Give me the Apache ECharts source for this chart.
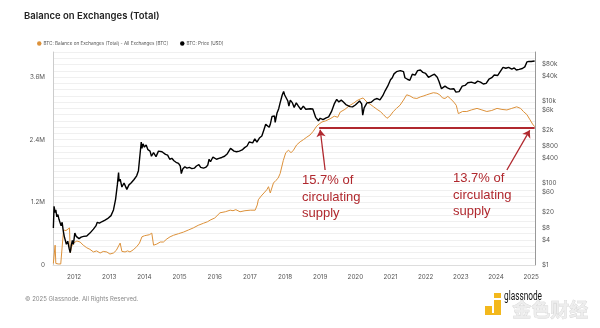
<!DOCTYPE html>
<html>
<head>
<meta charset="utf-8">
<script src="https://cdn.jsdelivr.net/npm/echarts@6/dist/echarts.min.js"></script>
<style>
html,body{margin:0;padding:0;background:#fff;}
#chart{width:600px;height:328px;}
</style>
</head>
<body>
<div id="chart"></div>
<script>
// ---- Data ----
const yearTicks = [2012,2013,2014,2015,2016,2017,2018,2019,2020,2021,2022,2023,2024,2025];
const balanceTicks = [0, 1200000, 2400000, 3600000];
const priceTicks = [1,4,8,20,60,100,400,800,2000,6000,10000,40000,80000];

// BTC balance on exchanges (BTC), x in decimal years
const balanceYears = [2011.41,2011.44,2011.46,2011.48,2011.55,2011.62,2011.67,2011.70,2011.74,2011.77,2011.82,2011.87,2011.89,2011.93,2011.98,2012.08,2012.17,2012.26,2012.36,2012.45,2012.55,2012.64,2012.74,2012.83,2012.93,2013.02,2013.12,2013.20,2013.25,2013.31,2013.36,2013.45,2013.52,2013.59,2013.68,2013.78,2013.86,2013.93,2014.00,2014.07,2014.14,2014.21,2014.26,2014.35,2014.45,2014.54,2014.64,2014.73,2014.83,2014.97,2015.11,2015.25,2015.39,2015.53,2015.68,2015.80,2015.87,2016.00,2016.15,2016.30,2016.44,2016.52,2016.60,2016.72,2016.86,2017.01,2017.15,2017.21,2017.24,2017.32,2017.40,2017.48,2017.53,2017.58,2017.67,2017.74,2017.80,2017.86,2017.95,2018.02,2018.10,2018.17,2018.24,2018.33,2018.43,2018.52,2018.62,2018.71,2018.80,2018.90,2018.97,2019.05,2019.15,2019.28,2019.40,2019.50,2019.57,2019.70,2019.85,2019.95,2020.05,2020.14,2020.22,2020.33,2020.42,2020.52,2020.62,2020.71,2020.80,2020.90,2020.98,2021.08,2021.17,2021.27,2021.37,2021.46,2021.55,2021.65,2021.75,2021.85,2021.95,2022.03,2022.12,2022.22,2022.32,2022.40,2022.48,2022.55,2022.63,2022.70,2022.80,2022.87,2022.90,2022.93,2023.05,2023.17,2023.30,2023.46,2023.60,2023.74,2023.88,2024.03,2024.17,2024.31,2024.45,2024.59,2024.70,2024.78,2024.88,2024.97,2025.04,2025.10];
const balanceValues = [30000,20000,380000,30000,20000,20000,30000,670000,640000,660000,650000,710000,230000,350000,420000,460000,440000,380000,330000,300000,250000,270000,230000,260000,250000,210000,230000,280000,300000,420000,260000,250000,270000,250000,290000,350000,420000,540000,560000,570000,580000,610000,380000,400000,440000,440000,500000,540000,570000,600000,630000,670000,710000,760000,800000,830000,860000,900000,1000000,1020000,1050000,1040000,1060000,1020000,1040000,1050000,1050000,1150000,1250000,1320000,1380000,1440000,1500000,1380000,1570000,1620000,1660000,1750000,2000000,2150000,2200000,2150000,2200000,2300000,2360000,2400000,2450000,2490000,2560000,2660000,2700000,2740000,2760000,2800000,2850000,2830000,2930000,2980000,3060000,3100000,3150000,3180000,3200000,3120000,3080000,3030000,2980000,2940000,2880000,2810000,2850000,2940000,3000000,3060000,3160000,3260000,3240000,3200000,3190000,3220000,3240000,3260000,3280000,3300000,3290000,3260000,3200000,3190000,3230000,3190000,3120000,3060000,2980000,2900000,2940000,2940000,2970000,3000000,2970000,2940000,2960000,3000000,2980000,2970000,3000000,3030000,3000000,2940000,2880000,2780000,2700000,2650000];

// BTC price (USD)
const priceYears = [2011.41,2011.43,2011.46,2011.48,2011.51,2011.54,2011.57,2011.60,2011.63,2011.66,2011.69,2011.72,2011.75,2011.78,2011.82,2011.86,2011.89,2011.92,2011.95,2011.98,2012.02,2012.06,2012.10,2012.14,2012.20,2012.27,2012.36,2012.45,2012.55,2012.62,2012.66,2012.72,2012.80,2012.88,2012.95,2013.05,2013.12,2013.18,2013.23,2013.265,2013.28,2013.31,2013.36,2013.42,2013.50,2013.56,2013.62,2013.70,2013.78,2013.83,2013.87,2013.91,2013.93,2013.96,2014.00,2014.05,2014.10,2014.16,2014.20,2014.26,2014.33,2014.40,2014.44,2014.50,2014.55,2014.60,2014.66,2014.72,2014.78,2014.84,2014.90,2014.97,2015.02,2015.05,2015.09,2015.15,2015.21,2015.28,2015.35,2015.42,2015.48,2015.55,2015.60,2015.68,2015.74,2015.80,2015.84,2015.88,2015.95,2016.00,2016.05,2016.12,2016.20,2016.28,2016.36,2016.45,2016.50,2016.55,2016.62,2016.70,2016.78,2016.85,2016.92,2016.98,2017.02,2017.08,2017.14,2017.20,2017.27,2017.34,2017.40,2017.45,2017.50,2017.55,2017.58,2017.63,2017.70,2017.72,2017.77,2017.82,2017.86,2017.92,2017.96,2017.99,2018.03,2018.08,2018.11,2018.15,2018.21,2018.26,2018.32,2018.38,2018.45,2018.52,2018.59,2018.64,2018.72,2018.79,2018.87,2018.95,2019.00,2019.08,2019.17,2019.24,2019.32,2019.40,2019.47,2019.53,2019.60,2019.66,2019.73,2019.78,2019.85,2019.92,2020.00,2020.12,2020.18,2020.21,2020.25,2020.33,2020.45,2020.55,2020.62,2020.70,2020.78,2020.85,2020.92,2021.00,2021.05,2021.10,2021.17,2021.28,2021.37,2021.41,2021.48,2021.55,2021.62,2021.70,2021.77,2021.85,2021.92,2022.00,2022.08,2022.18,2022.25,2022.33,2022.38,2022.45,2022.55,2022.62,2022.70,2022.80,2022.86,2022.95,2023.04,2023.12,2023.20,2023.30,2023.40,2023.48,2023.56,2023.64,2023.72,2023.80,2023.88,2023.95,2024.05,2024.12,2024.20,2024.28,2024.36,2024.45,2024.52,2024.58,2024.66,2024.75,2024.82,2024.88,2024.94,2025.00,2025.05,2025.10];
const priceValues = [8,27,19,22,15,17,13,14,9,11,7,5,4.6,3.2,3.8,2.5,2,3,4,3.2,6,5,5.5,4.4,4.8,5,5.1,6,7.5,9,11,10.5,11.5,12.5,13.5,16,22,40,90,180,110,125,80,100,70,90,100,120,150,200,450,1000,700,900,750,850,650,600,450,550,440,600,640,580,600,500,480,380,400,350,320,300,260,170,220,250,230,240,225,230,260,280,240,230,240,270,380,330,430,430,380,400,420,450,520,700,650,600,580,600,640,730,800,1000,900,950,1200,1000,1250,1400,2000,2700,2500,2300,2700,4200,4300,3000,5000,6500,9000,14000,17000,14000,15000,10000,7500,10500,9000,7000,9000,7500,6200,7500,6300,7000,6500,6400,4000,3300,3800,3500,3900,4100,5500,8500,11000,9500,10500,9500,8200,9000,7300,7200,8000,10000,8500,4500,6800,9000,9300,11000,11500,10600,13500,18000,23000,33000,37000,46000,52000,55000,52000,37000,34000,32000,45000,43000,55000,57000,50000,47000,38000,42000,45000,38000,30000,20000,23000,21000,19500,20000,16500,17000,23000,24000,28000,29000,27000,30500,29000,26000,27000,34000,37000,43000,42000,52000,66000,63000,66000,60000,64000,57000,59000,62000,68000,90000,93000,92000,100000,95000];

// Annotation values
const refLevel = 2620000;
const refStart = 2018.97, refEnd = 2025.10;
const note1 = ['15.7% of', 'circulating', 'supply'];
const note2 = ['13.7% of', 'circulating', 'supply'];

const balanceData = balanceYears.map((x, i) => [x, balanceValues[i]]);
const priceData = priceYears.map((x, i) => [x, priceValues[i]]);

const red = '#b0282e';
const noteText = (lines, left, top) => lines.map((t, i) => ({
  type: 'text', z: 100, left: left, top: top + i * 16.5,
  style: {text: t, fill: red, fontSize: 13, fontFamily: 'Liberation Sans', stroke: null, lineWidth: 0}
}));

const chart = echarts.init(document.getElementById('chart'), null, {renderer: 'canvas'});
chart.setOption({
  animation: false,
  backgroundColor: '#fff',
  title: {
    text: 'Balance on Exchanges (Total)',
    left: 24, top: 11, padding: 0,
    textStyle: {fontFamily: 'Inter', fontWeight: 600, fontSize: 9.5, color: '#222'}
  },
  legend: {
    left: 37, top: 41, padding: 0,
    icon: 'circle', itemWidth: 4.5, itemHeight: 4.5, itemGap: 12,
    textStyle: {fontFamily: 'Inter', fontSize: 4.6, color: '#555', padding: [0,0,0,-3]},
    data: ['BTC: Balance on Exchanges (Total) - All Exchanges [BTC]', 'BTC: Price [USD]']
  },
  grid: {left: 53, right: 65, top: 52, bottom: 63},
  xAxis: {
    type: 'value', min: 2011.40, max: 2025.11,
    axisLine: {show: true, lineStyle: {color: '#ddd'}},
    axisTick: {show: false},
    splitLine: {show: false},
    axisLabel: {
      customValues: yearTicks, margin: 9,
      fontFamily: 'Inter', fontSize: 6.3, color: '#555',
      formatter: v => String(Math.round(v))
    }
  },
  yAxis: [{
    type: 'value', min: 0, max: 4080000, interval: 120000, position: 'left',
    axisLine: {show: true, lineStyle: {color: '#ccc'}},
    axisTick: {show: false},
    splitLine: {show: true, lineStyle: {color: '#f0f0f0', width: 1}},
    axisLabel: {
      customValues: balanceTicks, margin: 8,
      fontFamily: 'Inter', fontSize: 6.3, color: '#555',
      formatter: v => v === 0 ? '0' : (v / 1e6).toFixed(1) + 'M'
    }
  }, {
    type: 'log', logBase: 10, min: 1, max: 157000, position: 'right',
    axisLine: {show: true, lineStyle: {color: '#999'}},
    axisTick: {show: false},
    splitLine: {show: false},
    axisLabel: {
      customValues: priceTicks, margin: 7,
      fontFamily: 'Inter', fontSize: 6.3, color: '#555',
      formatter: v => { const r = Math.round(v); return r >= 1000 ? '$' + Math.round(r / 1000) + 'k' : '$' + r; }
    }
  }],
  series: [{
    name: 'BTC: Balance on Exchanges (Total) - All Exchanges [BTC]',
    type: 'line', yAxisIndex: 0, data: balanceData,
    symbol: 'none', color: '#dc913a',
    lineStyle: {width: 1, color: '#dc913a'},
    markLine: {
      silent: true, animation: false,
      label: {show: false},
      lineStyle: {color: red, type: 'solid'},
      data: [
        [{coord: [refStart, refLevel], symbol: 'none', lineStyle: {width: 2, color: red}},
         {coord: [refEnd, refLevel], symbol: 'none'}],
        [{coord: [2019.14, 1820000], symbol: 'none', lineStyle: {width: 1.3, color: red}},
         {coord: [2019.00, 2590000], symbol: 'arrow', symbolSize: 7}],
        [{coord: [2024.31, 1820000], symbol: 'none', lineStyle: {width: 1.3, color: red}},
         {coord: [2024.96, 2580000], symbol: 'arrow', symbolSize: 7}]
      ]
    }
  }, {
    name: 'BTC: Price [USD]',
    type: 'line', yAxisIndex: 1, data: priceData,
    symbol: 'none', color: '#000',
    lineStyle: {width: 1.4, color: '#000'}
  }],
  graphic: [].concat(
    noteText(note1, 302, 174),
    noteText(note2, 453, 172),
    [
      {type: 'text', left: 25, top: 296, style: {text: '\u00a9 2025 Glassnode. All Rights Reserved.', fill: '#888', fontSize: 6, fontFamily: 'Inter'}},
      {type: 'rect', shape: {x: 485, y: 306, width: 7, height: 7}, style: {fill: '#f3b81c'}},
      {type: 'rect', shape: {x: 494, y: 293, width: 7, height: 5}, style: {fill: '#f3b81c'}},
      {type: 'rect', shape: {x: 494, y: 300, width: 7, height: 15}, style: {fill: '#f3b81c'}},
      {type: 'rect', shape: {x: 485, y: 313, width: 16, height: 2}, style: {fill: '#f3b81c'}},
      {type: 'text', x: 504, y: 290, scaleX: 0.66, style: {text: 'glassnode', fill: '#111', fontSize: 12.5, fontFamily: 'Roboto'}},
      {type: 'text', left: 512, top: 300, style: {text: '金色财经', fill: 'rgba(235,235,235,0.85)', stroke: 'rgba(190,190,190,0.7)', lineWidth: 0.6, fontSize: 19, fontWeight: 'bold', fontFamily: 'Noto Sans CJK SC'}}
    ]
  )
});
</script>
</body>
</html>
